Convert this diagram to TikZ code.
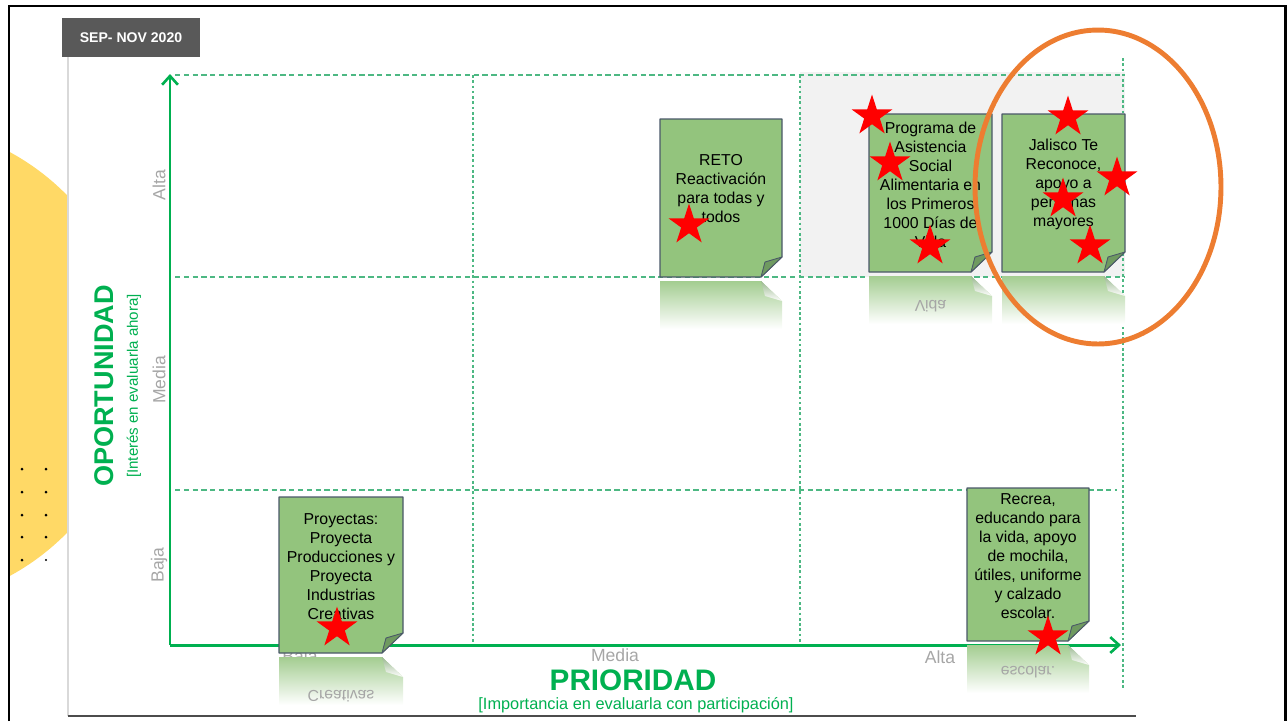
\documentclass[tikz,border=0pt]{standalone}
\usepackage{fontspec}
\setmainfont{Liberation Sans}
\usepackage{tikz}
\usetikzlibrary{arrows.meta,shapes.geometric}
\definecolor{MxGreen}{HTML}{00B050}
\definecolor{MxGrid}{HTML}{4DB883}
\definecolor{MxNote}{HTML}{93C47D}
\definecolor{MxEdge}{HTML}{4A5868}
\definecolor{MxFold}{HTML}{6F9A60}
\definecolor{MxOrange}{HTML}{ED7D31}
\definecolor{MxYellow}{HTML}{FFD966}
\definecolor{MxTick}{HTML}{A6A6A6}
\definecolor{MxBox}{HTML}{595959}
\definecolor{MxBand}{HTML}{F2F2F2}
\definecolor{MxThin}{HTML}{D9D9D9}

\begin{document}
\begin{tikzpicture}[x=0.02cm,y=-0.02cm,
  notecard/.style={fill=MxNote,draw=MxEdge,line width=0.6pt,line join=round},
  notefold/.style={fill=MxFold,draw=MxEdge,line width=0.5pt,line join=round},
  mirror/.style={top color=MxNote!85,bottom color=white,draw=none},
  mirrorfold/.style={top color=MxFold!70,bottom color=white,draw=none},
  notetext/.style={align=center,font=\fontsize{9}{10.8}\selectfont,inner sep=0pt},
  mirrortext/.style={font=\fontsize{9}{10.8}\selectfont,text=black!35,yscale=-1,transform shape,inner sep=0pt},
  gridline/.style={MxGrid,line width=0.6pt,dash pattern=on 3pt off 2pt},
  gridcol/.style={MxGrid,line width=0.6pt,dash pattern=on 1.5pt off 1.5pt},
  axis/.style={MxGreen,line width=1.7pt,-{Straight Barb[length=5pt,width=9pt,line width=1.5pt]}},
  tick/.style={text=MxTick,font=\fontsize{10}{12}\selectfont,inner sep=0pt},
  redstar/.style={star,star points=5,star point ratio=2.62,fill=red,draw=none,minimum size=0.86cm,inner sep=0pt}]
\path[use as bounding box] (0,0) rectangle (1288,721);
\begin{scope}
\clip (9,0) rectangle (68,721);
\fill[MxYellow] (-105,364) circle (241);
\end{scope}
\fill (22,469) circle (1.5);
\fill (46,469) circle (1.5);
\fill (22,492) circle (1.5);
\fill (46,492) circle (1.5);
\fill (22,515) circle (1.5);
\fill (46,515) circle (1.5);
\fill (22,537) circle (1.5);
\fill (46,537) circle (1.5);
\fill (22,560) circle (1.5);
\fill (46,560) circle (1.1);
\draw[line width=1.7pt] (9,721) -- (9,6) -- (1285,6) -- (1285,721);
\draw[MxThin,line width=0.6pt] (68,57) -- (68,716);
\draw[black!70,line width=1.2pt] (68,716) -- (1136,716);
\node[fill=MxBox,text=white,font=\bfseries\fontsize{8}{10}\selectfont,minimum width=2.76cm,minimum height=0.78cm,inner sep=0pt] (period) at (131,37.5) {SEP- NOV 2020};

\fill[MxBand] (800,72) rectangle (1125,277);
\draw[gridline] (175,75) -- (1125,75);
\draw[gridline] (175,277) -- (1125,277);
\draw[gridline] (175,490) -- (1117,490);
\draw[gridcol] (473,75) -- (473,645);
\draw[gridcol] (800,75) -- (800,645);
\draw[gridcol] (1123,58) -- (1123,690);

\coordinate (origin) at (170,645);
\coordinate (ytop) at (170,74);
\coordinate (xend) at (1121,645);
\draw[axis] (origin) -- (ytop);
\draw[axis] (origin) -- (xend);

\node[tick,rotate=90] (yalta) at (159,185) {Alta};
\node[tick,rotate=90] (ymedia) at (159,380) {Media};
\node[tick,rotate=90] (ybaja) at (159,565) {Baja};
\node[tick] (xbaja) at (300,658) {Baja};
\node[tick] (xmedia) at (615,655) {Media};
\node[tick] (xalta) at (940,657) {Alta};
\node[rotate=90,text=MxGreen,font=\bfseries\fontsize{15.4}{18}\selectfont,inner sep=0pt] (oport) at (104,386) {OPORTUNIDAD};
\node[rotate=90,text=MxGreen,font=\fontsize{8.6}{10}\selectfont,inner sep=0pt] (oportsub) at (134,386) {[Interés en evaluarla ahora]};
\node[text=MxGreen,font=\bfseries\fontsize{16.9}{20}\selectfont,inner sep=0pt] (prior) at (633,680) {PRIORIDAD};
\node[text=MxGreen,font=\fontsize{9.3}{11}\selectfont,inner sep=0pt] (priorsub) at (636,705) {[Importancia en evaluarla con participación]};

\shade[mirror] (660,281) -- (761,281) -- (782,301) -- (782,329) -- (660,329) -- cycle;
\shade[mirrorfold] (761,281) -- (765,296) -- (782,301) -- cycle;
\filldraw[notecard] (660,119) -- (782,119) -- (782,257) -- (761,277) -- (660,277) -- cycle;
\filldraw[notefold] (761,277) -- (765,262) -- (782,257) -- cycle;
\node[notetext] (reto) at (721,189) {RETO\\Reactivación\\para todas y\\todos};

\shade[mirror] (869,276) -- (971,276) -- (992,296) -- (992,324) -- (869,324) -- cycle;
\shade[mirrorfold] (971,276) -- (975,291) -- (992,296) -- cycle;
\node[mirrortext] (programaecho) at (930.5,306) {Vida};
\filldraw[notecard] (869,114) -- (992,114) -- (992,252) -- (971,272) -- (869,272) -- cycle;
\filldraw[notefold] (971,272) -- (975,257) -- (992,252) -- cycle;
\node[notetext] (programa) at (930.5,185) {Programa de\\Asistencia\\Social\\Alimentaria en\\los Primeros\\1000 Días de\\Vida};

\shade[mirror] (1002,276) -- (1104,276) -- (1125,296) -- (1125,324) -- (1002,324) -- cycle;
\shade[mirrorfold] (1104,276) -- (1108,291) -- (1125,296) -- cycle;
\filldraw[notecard] (1002,114) -- (1125,114) -- (1125,252) -- (1104,272) -- (1002,272) -- cycle;
\filldraw[notefold] (1104,272) -- (1108,257) -- (1125,252) -- cycle;
\node[notetext] (jalisco) at (1063.5,184) {Jalisco Te\\Reconoce,\\apoyo a\\personas\\mayores};

\shade[mirror] (279,657) -- (382,657) -- (403,677) -- (403,705) -- (279,705) -- cycle;
\shade[mirrorfold] (382,657) -- (386,672) -- (403,677) -- cycle;
\node[mirrortext] (proyectasecho) at (341,696) {Creativas};
\filldraw[notecard] (279,497) -- (403,497) -- (403,633) -- (382,653) -- (279,653) -- cycle;
\filldraw[notefold] (382,653) -- (386,638) -- (403,633) -- cycle;
\node[notetext] (proyectas) at (341,567) {Proyectas:\\Proyecta\\Producciones y\\Proyecta\\Industrias\\Creativas};

\shade[mirror] (967,645) -- (1068,645) -- (1089,665) -- (1089,693) -- (967,693) -- cycle;
\shade[mirrorfold] (1068,645) -- (1072,660) -- (1089,665) -- cycle;
\node[mirrortext] (recreaecho) at (1028,672) {escolar.};
\filldraw[notecard] (967,488) -- (1089,488) -- (1089,621) -- (1068,641) -- (967,641) -- cycle;
\filldraw[notefold] (1068,641) -- (1072,626) -- (1089,621) -- cycle;
\node[notetext] (recrea) at (1028,556) {Recrea,\\educando para\\la vida, apoyo\\de mochila,\\útiles, uniforme\\y calzado\\escolar.};

\node[draw=MxOrange,line width=2.8pt,ellipse,minimum width=4.92cm,minimum height=6.28cm,inner sep=0pt] (focus) at (1098,187) {};

\node[redstar] (s1) at (689,225) {};
\node[redstar] (s2) at (872,116) {};
\node[redstar] (s3) at (890,163) {};
\node[redstar] (s4) at (930,246) {};
\node[redstar] (s5) at (1068,117) {};
\node[redstar] (s6) at (1117,178) {};
\node[redstar] (s7) at (1063,199) {};
\node[redstar] (s8) at (1090,246) {};
\node[redstar] (s9) at (337,628) {};
\node[redstar] (s10) at (1048,637) {};
\end{tikzpicture}
\end{document}
